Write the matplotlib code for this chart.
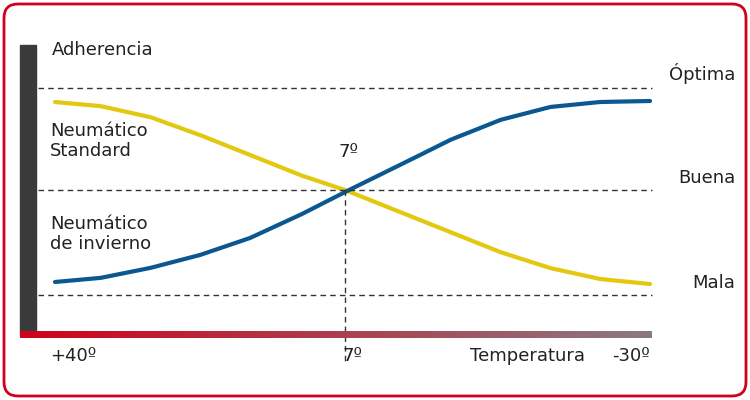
import matplotlib
matplotlib.use("Agg")
import matplotlib.pyplot as plt
import numpy as np
from matplotlib.patches import FancyBboxPatch

# curve sample points (pixel-like chart coords)
xs = [55, 100, 150, 200, 250, 300, 345, 400, 450, 500, 550, 600, 650]
standard = [102, 106, 117, 135, 155, 175, 190, 212, 232, 252, 268, 279, 284]
invierno = [282, 278, 268, 255, 238, 215, 192, 165, 140, 120, 107, 102, 101]
levels = ["Óptima", "Buena", "Mala"]
level_y = [88, 190, 295]
temp_labels = ["+40º", "7º", "-30º"]

fig = plt.figure(figsize=(7.5, 4), dpi=100)
ax = fig.add_axes([0, 0, 1, 1])
ax.set_xlim(0, 750); ax.set_ylim(400, 0); ax.axis("off")
ax.add_patch(FancyBboxPatch((4, 4), 742, 392, boxstyle="round,pad=0,rounding_size=14",
                            fc="white", ec="#d0021b", lw=2))

xf = np.linspace(55, 650, 300)
for ys, c in [(standard, "#e2c80f"), (invierno, "#0b5790")]:
    ax.plot(xf, np.interp(xf, xs, ys), color=c, lw=3, solid_capstyle="round")

for y in level_y:
    ax.plot([38, 652], [y, y], color="#333", lw=1, ls=(0, (4, 3)))
ax.plot([345, 345], [190, 362], color="#333", lw=1, ls=(0, (4, 3)))

ax.add_patch(plt.Rectangle((20, 45), 16, 290, color="#3a3a3a"))
grad = np.linspace(0, 1, 256)[None, :]
from matplotlib.colors import LinearSegmentedColormap
cm = LinearSegmentedColormap.from_list("g", ["#d0021b", "#8a7a82"])
ax.imshow(grad, cmap=cm, extent=(20, 652, 338, 331), aspect="auto", zorder=3)

kw = dict(fontsize=13, color="#222")
ax.text(52, 50, "Adherencia", va="center", **kw)
ax.text(50, 141, "Neumático\nStandard", va="center", linespacing=1.2, **kw)
ax.text(50, 234, "Neumático\nde invierno", va="center", linespacing=1.2, **kw)
ax.text(348, 152, "7º", ha="center", va="center", **kw)
for lab, y in zip(levels, level_y):
    yy = {88: 74, 190: 178, 295: 283}[y]
    ax.text(735, yy, lab, ha="right", va="center", **kw)
ax.text(50, 356, temp_labels[0], va="center", **kw)
ax.text(353, 356, temp_labels[1], ha="center", va="center", **kw)
ax.text(585, 356, "Temperatura", ha="right", va="center", **kw)
ax.text(650, 356, temp_labels[2], ha="right", va="center", **kw)
fig.savefig("out.png", dpi=100)
